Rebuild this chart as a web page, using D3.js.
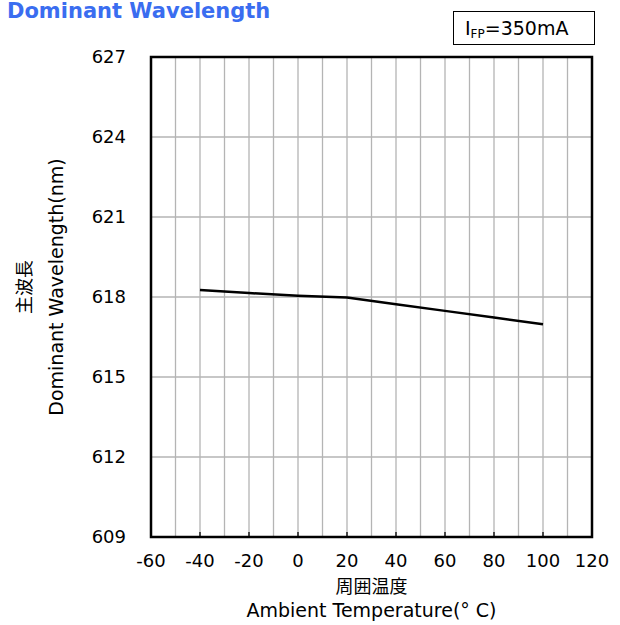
<!DOCTYPE html>
<html>
<head>
<meta charset="utf-8">
<script src="https://cdn.jsdelivr.net/npm/d3@7"></script>
<style>
  html, body { margin: 0; padding: 0; background: #fff; overflow: hidden; }
  svg { display: block; }
  text { font-family: "DejaVu Sans", Verdana, sans-serif; fill: #000; }
</style>
</head>
<body>
<div id="chart"></div>
<script>
// data
const temps = [-40, -20, 0, 20, 40, 60, 80, 100];
const wavelengths = [618.26, 618.15, 618.05, 617.98, 617.73, 617.48, 617.23, 616.98];
const xTicks = [-60, -40, -20, 0, 20, 40, 60, 80, 100, 120];
const yTicks = [609, 612, 615, 618, 621, 624, 627];

const width = 620, height = 625;
const margin = { top: 57, right: 28, bottom: 88, left: 151 };
const innerWidth = width - margin.left - margin.right;
const innerHeight = height - margin.top - margin.bottom;

const svg = d3.select("#chart").append("svg")
  .attr("width", width)
  .attr("height", height);

// scales
const x = d3.scaleLinear().domain([-60, 120]).range([0, innerWidth]);
const y = d3.scaleLinear().domain([609, 627]).range([innerHeight, 0]);

const g = svg.append("g")
  .attr("transform", `translate(${margin.left},${margin.top})`);

// vertical grid every 10 degrees
g.append("g")
  .selectAll("line")
  .data(d3.range(-50, 120, 10))
  .join("line")
  .attr("x1", d => x(d)).attr("x2", d => x(d))
  .attr("y1", 0).attr("y2", innerHeight)
  .attr("stroke", "#b4b4b4")
  .attr("stroke-width", 1.3);

// horizontal grid at each y tick
g.append("g")
  .selectAll("line")
  .data(yTicks.slice(1, -1))
  .join("line")
  .attr("x1", 0).attr("x2", innerWidth)
  .attr("y1", d => y(d)).attr("y2", d => y(d))
  .attr("stroke", "#b4b4b4")
  .attr("stroke-width", 1.3);

// small inner ticks on the bottom frame
g.append("g")
  .selectAll("line")
  .data(xTicks.slice(1, -1))
  .join("line")
  .attr("x1", d => x(d)).attr("x2", d => x(d))
  .attr("y1", innerHeight).attr("y2", innerHeight - 5)
  .attr("stroke", "#000")
  .attr("stroke-width", 1.3);

// frame
g.append("rect")
  .attr("width", innerWidth)
  .attr("height", innerHeight)
  .attr("fill", "none")
  .attr("stroke", "#000")
  .attr("stroke-width", 2.5);

// tick labels, plain hyphen for negatives
g.append("g")
  .selectAll("text")
  .data(xTicks)
  .join("text")
  .attr("x", d => x(d))
  .attr("y", innerHeight + 30)
  .attr("text-anchor", "middle")
  .attr("font-size", 18)
  .text(d => String(d));

g.append("g")
  .selectAll("text")
  .data(yTicks)
  .join("text")
  .attr("x", -25)
  .attr("y", d => y(d) + 6)
  .attr("text-anchor", "end")
  .attr("font-size", 18)
  .text(d => String(d));

// the curve
const line = d3.line()
  .x((d, i) => x(temps[i]))
  .y(d => y(d));

g.append("path")
  .datum(wavelengths)
  .attr("fill", "none")
  .attr("stroke", "#000")
  .attr("stroke-width", 2.5)
  .attr("d", line);

// title
svg.append("text")
  .attr("x", 7).attr("y", 18)
  .attr("font-size", 21)
  .attr("font-weight", "bold")
  .style("fill", "#3a6df0")
  .text("Dominant Wavelength");

// condition box
svg.append("rect")
  .attr("x", 453.5).attr("y", 11.5)
  .attr("width", 141).attr("height", 33)
  .attr("fill", "#fff")
  .attr("stroke", "#000")
  .attr("stroke-width", 1);

const cond = svg.append("text")
  .attr("x", 465).attr("y", 35)
  .attr("font-size", 19);
cond.append("tspan").text("I");
cond.append("tspan").attr("font-size", 12).attr("dy", 3).text("FP");
cond.append("tspan").attr("dy", -3).text("=350mA");

// axis titles
svg.append("text")
  .attr("x", margin.left + innerWidth / 2).attr("y", 593)
  .attr("text-anchor", "middle")
  .attr("font-size", 18)
  .style("font-family", "Noto Sans CJK JP, sans-serif")
  .text("周囲温度");

svg.append("text")
  .attr("x", margin.left + innerWidth / 2).attr("y", 617)
  .attr("text-anchor", "middle")
  .attr("font-size", 19)
  .text("Ambient Temperature(°  C)");

svg.append("text")
  .attr("transform", "translate(63,287) rotate(-90)")
  .attr("text-anchor", "middle")
  .attr("font-size", 19)
  .text("Dominant Wavelength(nm)");

svg.append("text")
  .attr("transform", "translate(31,287) rotate(-90)")
  .attr("text-anchor", "middle")
  .attr("font-size", 18)
  .style("font-family", "Noto Sans CJK JP, sans-serif")
  .text("主波長");
</script>
</body>
</html>
